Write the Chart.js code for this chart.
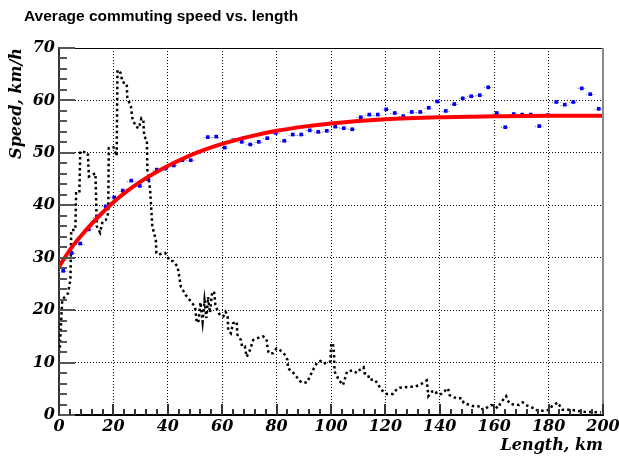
<!DOCTYPE html>
<html>
<head>
<meta charset="utf-8">
<script src="https://cdn.jsdelivr.net/npm/chart.js@4.4.0/dist/chart.umd.min.js"></script>
<style>
  html, body { margin: 0; padding: 0; background: #fff; }
</style>
</head>
<body>
<canvas id="c" width="619" height="456"></canvas>
<script>
// ---- data ----
const xTicks = [0, 20, 40, 60, 80, 100, 120, 140, 160, 180, 200];
const yTicks = [0, 10, 20, 30, 40, 50, 60, 70];

// blue points: mean speed per length bin (bin width 3.125 km)
const binKm = [1.56, 4.69, 7.81, 10.94, 14.06, 17.19, 20.31, 23.44, 26.56, 29.69,
  32.81, 35.94, 39.06, 42.19, 45.31, 48.44, 51.56, 54.69, 57.81, 60.94,
  64.06, 67.19, 70.31, 73.44, 76.56, 79.69, 82.81, 85.94, 89.06, 92.19,
  95.31, 98.44, 101.56, 104.69, 107.81, 110.94, 114.06, 117.19, 120.31, 123.44,
  126.56, 129.69, 132.81, 135.94, 139.06, 142.19, 145.31, 148.44, 151.56, 154.69,
  157.81, 160.94, 164.06, 167.19, 170.31, 173.44, 176.56, 179.69, 182.81, 185.94,
  189.06, 192.19, 195.31, 198.44];
const binHalf = 1.5625;
const speedKmh = [27.5, 30.9, 32.7, 35.4, 37.8, 39.8, 41.5, 42.8, 44.7, 43.7,
  45.0, 46.8, 47.0, 47.6, 48.6, 48.6, 50.2, 53.0, 53.1, 51.0,
  52.4, 52.1, 51.6, 52.1, 52.8, 53.8, 52.3, 53.5, 53.5, 54.3,
  54.0, 54.2, 55.0, 54.7, 54.5, 56.8, 57.3, 57.3, 58.3, 57.6,
  57.0, 57.8, 57.8, 58.6, 59.8, 58.0, 59.3, 60.4, 60.8, 61.0,
  62.5, 57.6, 54.9, 57.4, 57.3, 57.3, 55.1, 57.2, 59.7, 59.2,
  59.7, 62.3, 61.2, 58.4];

// red fit curve
const fitKm = [0, 5, 10, 15, 20, 25, 30, 35, 40, 50, 60, 70, 80, 90, 100, 120, 140, 160, 180, 200];
const fitSpeed = [28.3, 32.2, 35.3, 38.1, 40.6, 42.7, 44.5, 46.1, 47.5, 49.9,
  51.7, 53.1, 54.2, 55.0, 55.6, 56.4, 56.8, 57.0, 57.1, 57.1];

// black dotted: length distribution (arbitrary units)
const histKm = [0.2, 1.2, 3.3, 4.2, 4.5, 6.0, 6.3, 7.5, 7.8, 10.6,
  11.0, 13.4, 13.9, 15.1, 16.0, 17.2, 18.1, 18.3, 20.0, 21.2,
  21.5, 22.7, 23.3, 24.9, 25.1, 26.4, 27.0, 28.2, 29.4, 30.3,
  31.0, 31.3, 32.3, 32.5, 33.5, 34.3, 35.6, 35.8, 36.5, 39.0,
  40.0, 40.4, 42.0, 43.6, 44.8, 46.6, 49.0, 50.0, 50.6, 51.2,
  52.0, 52.8, 53.5, 54.2, 54.8, 55.5, 56.2, 57.0, 57.5, 58.3,
  59.3, 60.4, 61.2, 62.0, 62.2, 63.2, 64.0, 65.3, 65.6, 66.9,
  67.3, 68.3, 69.0, 70.2, 71.4, 73.2, 75.0, 76.3, 76.7, 77.1,
  78.7, 80.0, 81.2, 83.0, 84.0, 84.2, 85.7, 87.3, 89.1, 91.2,
  92.2, 93.4, 94.0, 94.9, 96.1, 97.3, 98.9, 99.8, 100.1, 100.7,
  101.1, 101.3, 102.9, 104.4, 105.0, 105.9, 108.1, 109.5, 110.5, 112.0,
  112.3, 113.6, 114.2, 115.7, 116.9, 118.5, 120.6, 122.8, 124.0, 125.2,
  128.9, 130.7, 132.5, 134.0, 135.2, 135.8, 137.2, 138.4, 138.9, 140.5,
  142.1, 143.0, 143.6, 146.0, 148.1, 148.8, 152.1, 155.2, 155.8, 157.0,
  158.8, 160.3, 161.3, 162.5, 164.4, 165.2, 165.9, 169.2, 170.5, 171.7,
  173.3, 174.8, 176.0, 178.5, 180.3, 181.1, 183.3, 184.3, 185.1, 188.0,
  190.6, 193.1, 199.2];
const histVal = [11.8, 22.0, 23.2, 25.8, 35.3, 35.3, 42.3, 42.3, 50.3, 50.0,
  45.5, 46.1, 36.0, 34.8, 36.9, 37.2, 38.5, 50.9, 51.1, 49.4,
  65.8, 65.2, 63.5, 63.2, 60.6, 58.9, 56.6, 55.0, 54.7, 56.6,
  56.3, 53.1, 52.5, 46.8, 43.0, 36.0, 33.4, 30.9, 30.6, 30.9,
  30.2, 29.6, 29.3, 28.3, 24.5, 22.9, 21.3, 20.7, 17.8, 17.6,
  21.5, 17.8, 21.8, 18.5, 22.5, 19.5, 23.0, 23.6, 21.0, 19.8,
  19.0, 18.8, 19.7, 19.1, 16.2, 15.6, 17.5, 17.8, 15.3, 14.3,
  13.1, 13.1, 11.1, 12.4, 14.3, 14.7, 15.0, 14.5, 12.7, 11.8,
  11.8, 12.7, 12.4, 11.5, 10.5, 8.9, 8.3, 7.3, 6.2, 6.2,
  7.3, 8.6, 9.2, 10.0, 10.3, 9.8, 10.1, 10.2, 13.7, 13.6,
  11.8, 8.3, 6.7, 5.7, 6.7, 8.3, 8.5, 8.0, 8.6, 9.1,
  8.0, 7.7, 6.7, 6.8, 6.2, 4.8, 4.0, 4.0, 4.8, 5.2,
  5.4, 5.4, 5.7, 6.2, 6.6, 3.6, 4.5, 4.6, 4.0, 4.0,
  4.7, 5.1, 3.8, 3.2, 3.2, 2.3, 1.7, 1.6, 1.0, 1.3,
  1.9, 1.7, 1.3, 2.4, 3.6, 2.6, 2.1, 1.9, 2.4, 1.9,
  1.5, 1.3, 0.8, 0.8, 1.0, 1.6, 2.4, 1.6, 1.0, 1.0,
  0.8, 0.6, 0.5];

const titleText = "Average commuting speed vs. length";
const xTitle = "Length, km";
const yTitle = "Speed, km/h";

const labelFont = { family: "'DejaVu Serif'", size: 16, weight: "bold", style: "italic" };

/************ ROOT-style frame, inner ticks, error bars, titles ************/
const rootLook = {
  id: "rootLook",
  beforeDatasetsDraw(chart) {
    const { ctx } = chart;
    const xs = chart.scales.x, ys = chart.scales.y;
    // horizontal bin-width bars behind the blue points
    ctx.save();
    ctx.strokeStyle = "#888";
    ctx.lineWidth = 1;
    ctx.setLineDash([1, 1]);
    binKm.forEach((k, i) => {
      const y = Math.round(ys.getPixelForValue(speedKmh[i])) + 0.5;
      ctx.beginPath();
      ctx.moveTo(xs.getPixelForValue(k - binHalf), y);
      ctx.lineTo(xs.getPixelForValue(k + binHalf), y);
      ctx.stroke();
    });
    ctx.restore();
  },
  afterDraw(chart) {
    const { ctx, chartArea: a } = chart;
    const xs = chart.scales.x, ys = chart.scales.y;
    ctx.save();

    // frame: top black, right grey
    ctx.strokeStyle = "#000";
    ctx.lineWidth = 1;
    ctx.beginPath();
    ctx.moveTo(a.left, a.top + 0.5);
    ctx.lineTo(a.right, a.top + 0.5);
    ctx.stroke();
    ctx.strokeStyle = "#888";
    ctx.lineWidth = 2;
    ctx.beginPath();
    ctx.moveTo(a.right, a.top);
    ctx.lineTo(a.right, a.bottom);
    ctx.stroke();

    // ticks drawn inside the frame
    ctx.strokeStyle = "#555";
    ctx.lineWidth = 2;
    for (let v = 0; v <= 70; v += 2) {
      const y = Math.round(ys.getPixelForValue(v));
      const len = v % 10 === 0 ? 16 : 8;
      ctx.beginPath();
      ctx.moveTo(a.left, y);
      ctx.lineTo(a.left + len, y);
      ctx.stroke();
    }
    ctx.strokeStyle = "#333";
    for (let v = 0; v <= 200; v += 4) {
      const x = Math.round(xs.getPixelForValue(v));
      const len = v % 20 === 0 ? 11 : 6;
      ctx.beginPath();
      ctx.moveTo(x, a.bottom);
      ctx.lineTo(x, a.bottom - len);
      ctx.stroke();
    }

    // texts
    ctx.fillStyle = "#000";
    ctx.font = "bold 15.5px 'Liberation Sans'";
    ctx.textAlign = "left";
    ctx.textBaseline = "alphabetic";
    ctx.fillText(titleText, 24, 21);

    ctx.font = "italic bold 16px 'DejaVu Serif'";
    ctx.textAlign = "right";
    ctx.fillText(xTitle, a.right, 450);

    ctx.translate(21, a.top);
    ctx.rotate(-Math.PI / 2);
    ctx.textAlign = "right";
    ctx.fillText(yTitle, 0, 0);
    ctx.restore();
  }
};

new Chart(document.getElementById("c"), {
  type: "scatter",
  data: {
    datasets: [
      {
        label: "fit",
        data: fitKm.map((k, i) => ({ x: k, y: fitSpeed[i] })),
        showLine: true,
        borderColor: "#ff0000",
        borderWidth: 4,
        pointRadius: 0,
        cubicInterpolationMode: "monotone",
        order: 0,
      },
      {
        label: "speed",
        data: binKm.map((k, i) => ({ x: k, y: speedKmh[i] })),
        pointStyle: "rect",
        pointRadius: 2.6,
        borderWidth: 0,
        backgroundColor: "#0000ff",
        order: 1,
      },
      {
        label: "length",
        data: histKm.map((k, i) => ({ x: k, y: histVal[i] })),
        showLine: true,
        borderColor: "#000",
        borderWidth: 2.5,
        borderDash: [2.5, 3],
        borderCapStyle: "butt",
        pointRadius: 0,
        tension: 0,
        order: 2,
      },
    ],
  },
  options: {
    responsive: false,
    animation: false,
    events: [],
    layout: { padding: { top: 48, right: 16, left: 0, bottom: 0 } },
    plugins: { legend: { display: false }, tooltip: { enabled: false } },
    scales: {
      x: {
        type: "linear",
        min: 0,
        max: 200,
        afterBuildTicks: (s) => { s.ticks = xTicks.map((v) => ({ value: v })); },
        afterFit: (s) => { s.height = 41; s.paddingLeft = 0; s.paddingRight = 0; },
        ticks: { color: "#000", font: labelFont, padding: 2, maxRotation: 0, autoSkip: false },
        grid: { color: "#000", lineWidth: 1, drawTicks: false },
        border: { display: true, color: "#000", width: 2, dash: [1, 2] },
      },
      y: {
        type: "linear",
        min: 0,
        max: 70,
        afterBuildTicks: (s) => { s.ticks = yTicks.map((v) => ({ value: v })); },
        afterFit: (s) => { s.width = 59; s.paddingTop = 0; s.paddingBottom = 0; },
        ticks: { color: "#000", font: labelFont, padding: 4 },
        grid: { color: "#000", lineWidth: 1, drawTicks: false },
        border: { display: true, color: "#333", width: 2, dash: [1, 2] },
      },
    },
  },
  plugins: [rootLook],
});
</script>
</body>
</html>
